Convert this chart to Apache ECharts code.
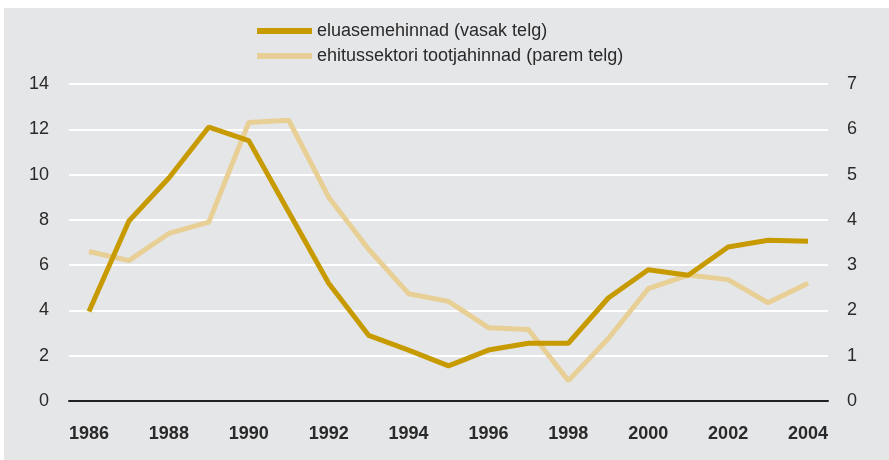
<!DOCTYPE html>
<html lang="en">
<head>
    <meta charset="UTF-8"/>
    <script src="https://cdn.jsdelivr.net/npm/echarts@6/dist/echarts.min.js"></script>
    <title>eluasemehinnad</title>
    <style>
        body { margin: 0; background: #fff; }
        #main { position: absolute; left: 4px; top: 8px; width: 885px; height: 452px; }
    </style>
</head>
<body>
<div id="main"></div>
<script type="text/javascript">
    // andmed
    var years = ['1986', '1987', '1988', '1989', '1990', '1991', '1992', '1993', '1994', '1995',
        '1996', '1997', '1998', '1999', '2000', '2001', '2002', '2003', '2004'];
    var eluasemehinnad = [3.95, 7.95, 9.85, 12.1, 11.5, 8.35, 5.2, 2.9, 2.25, 1.55,
        2.25, 2.55, 2.55, 4.55, 5.8, 5.55, 6.8, 7.1, 7.05];
    var tootjahinnad = [3.3, 3.1, 3.7, 3.95, 6.15, 6.2, 4.5, 3.35, 2.37, 2.2,
        1.62, 1.58, 0.45, 1.38, 2.48, 2.78, 2.68, 2.17, 2.6];
    var leftTicks = [0, 14, 2];
    var rightTicks = [0, 7, 1];

    var myChart = echarts.init(document.getElementById('main'));
    var font = '"Liberation Sans", Arial, sans-serif';

    var option = {
        backgroundColor: '#e5e6e8',
        animation: false,
        textStyle: { fontFamily: font },
        legend: {
            orient: 'vertical',
            left: 248,
            top: 8,
            itemWidth: 55,
            itemHeight: 6,
            itemGap: 5,
            itemTextGap: 10,
            icon: 'rect',
            textStyle: { fontSize: 18, color: '#2a2a2a', fontFamily: font, lineHeight: 20 },
            data: ['eluasemehinnad (vasak telg)', 'ehitussektori tootjahinnad (parem telg)']
        },
        grid: { left: 65, right: 61, top: 76, bottom: 59 },
        xAxis: {
            type: 'category',
            data: years,
            boundaryGap: true,
            axisLine: { lineStyle: { color: '#222', width: 2 } },
            axisTick: { show: false },
            axisLabel: {
                interval: 1,
                margin: 24,
                fontSize: 18,
                fontWeight: 'bold',
                color: '#2a2a2a',
                fontFamily: font
            }
        },
        yAxis: [
            {
                type: 'value',
                min: leftTicks[0], max: leftTicks[1], interval: leftTicks[2],
                axisLine: { show: false },
                axisTick: { show: false },
                axisLabel: { margin: 20, fontSize: 18, color: '#2a2a2a', fontFamily: font },
                splitLine: { lineStyle: { color: '#ffffff', width: 2 } }
            },
            {
                type: 'value',
                min: rightTicks[0], max: rightTicks[1], interval: rightTicks[2],
                axisLine: { show: false },
                axisTick: { show: false },
                axisLabel: { margin: 19, fontSize: 18, color: '#2a2a2a', fontFamily: font },
                splitLine: { show: false }
            }
        ],
        series: [
            {
                name: 'ehitussektori tootjahinnad (parem telg)',
                type: 'line',
                yAxisIndex: 1,
                data: tootjahinnad,
                symbol: 'none',
                color: '#e8cf96',
                lineStyle: { width: 5, color: '#e8cf96' }
            },
            {
                name: 'eluasemehinnad (vasak telg)',
                type: 'line',
                yAxisIndex: 0,
                data: eluasemehinnad,
                symbol: 'none',
                color: '#c79b00',
                lineStyle: { width: 5, color: '#c79b00' }
            }
        ]
    };

    myChart.setOption(option);
</script>
</body>
</html>
